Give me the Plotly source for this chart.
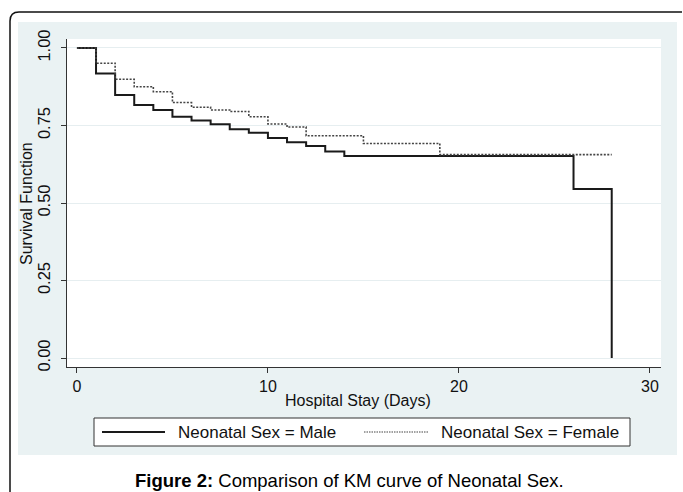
import plotly.graph_objects as go

# Data (Kaplan-Meier step estimates)
time_male = [0, 1, 2, 3, 4, 5, 6, 7, 8, 9, 10, 11, 12, 13, 14, 26, 28]
surv_male = [1.0, 0.918, 0.848, 0.816, 0.800, 0.778, 0.766, 0.754, 0.738,
             0.727, 0.710, 0.696, 0.684, 0.666, 0.652, 0.545, 0.0]
time_female = [0, 1, 2, 3, 4, 5, 6, 7, 8, 9, 10, 11, 12, 15, 19, 28]
surv_female = [1.0, 0.951, 0.899, 0.875, 0.859, 0.824, 0.809, 0.800, 0.795,
               0.778, 0.755, 0.745, 0.717, 0.692, 0.656, 0.656]
x_ticks = [0, 10, 20, 30]
y_ticks = [0.0, 0.25, 0.5, 0.75, 1.0]
y_ticklabels = ["0.00", "0.25", "0.50", "0.75", "1.00"]
legend_labels = ["Neonatal Sex = Male", "Neonatal Sex = Female"]

W, H = 683, 492
L, R, T, B = 67, 661, 39, 367  # plot area in pixels


def px(x):
    return (x - L) / (R - L)


def py(y):
    return (B - y) / (B - T)


FONT = "Liberation Sans, Arial, sans-serif"

fig = go.Figure()
fig.add_trace(go.Scatter(x=time_male, y=surv_male, mode="lines", line_shape="hv",
                         line=dict(color="#1a1a1a", width=2), name=legend_labels[0],
                         showlegend=False))
fig.add_trace(go.Scatter(x=time_female, y=surv_female, mode="lines", line_shape="hv",
                         line=dict(color="#444444", width=1.6, dash="2px,1.5px"),
                         name=legend_labels[1], showlegend=False))

shapes = []
# light background region
shapes.append(dict(type="rect", xref="paper", yref="paper", x0=px(18), x1=px(677),
                   y0=py(455), y1=py(22), fillcolor="#eaf2f3", line=dict(width=0),
                   layer="below"))
# white plot region
shapes.append(dict(type="rect", xref="paper", yref="paper", x0=px(67), x1=px(661),
                   y0=py(367), y1=py(39), fillcolor="white", line=dict(width=0),
                   layer="below"))
# outer frame with rounded top-left corner
r = 9
path = (f"M {px(10)},{py(495)} L {px(10)},{py(12 + r)} "
        f"Q {px(10)},{py(12)} {px(10 + r)},{py(12)} L {px(682)},{py(12)}")
shapes.append(dict(type="path", xref="paper", yref="paper", path=path,
                   line=dict(color="#111111", width=1.5)))
# legend box
shapes.append(dict(type="rect", xref="paper", yref="paper", x0=px(94), x1=px(630),
                   y0=py(446), y1=py(418), fillcolor="white",
                   line=dict(color="#333333", width=1)))
# legend samples
shapes.append(dict(type="line", xref="paper", yref="paper", x0=px(102), x1=px(165),
                   y0=py(432), y1=py(432), line=dict(color="#1a1a1a", width=2)))
shapes.append(dict(type="line", xref="paper", yref="paper", x0=px(364), x1=px(428),
                   y0=py(432), y1=py(432),
                   line=dict(color="#444444", width=1.2, dash="1.5px,1px")))

annotations = [
    dict(text=legend_labels[0], xref="paper", yref="paper", x=px(176), y=py(432),
         xanchor="left", yanchor="middle", showarrow=False,
         font=dict(family=FONT, size=17, color="#111111")),
    dict(text=legend_labels[1], xref="paper", yref="paper", x=px(439), y=py(432),
         xanchor="left", yanchor="middle", showarrow=False,
         font=dict(family=FONT, size=17, color="#111111")),
    dict(text="Hospital Stay (Days)", xref="paper", yref="paper", x=px(358), y=py(400),
         xanchor="center", yanchor="middle", showarrow=False,
         font=dict(family=FONT, size=16, color="#111111")),
    dict(text="Survival Function", xref="paper", yref="paper", x=px(26), y=py(204),
         xanchor="center", yanchor="middle", showarrow=False, textangle=-90,
         font=dict(family=FONT, size=16, color="#111111")),
    dict(text="<b>Figure 2:</b> Comparison of KM curve of Neonatal Sex.",
         xref="paper", yref="paper", x=px(349), y=py(480),
         xanchor="center", yanchor="middle", showarrow=False,
         font=dict(family=FONT, size=18.5, color="#000000")),
]

fig.update_layout(
    width=W, height=H,
    margin=dict(l=L, r=W - R, t=T, b=H - B),
    paper_bgcolor="white", plot_bgcolor="white",
    shapes=shapes, annotations=annotations,
    font=dict(family=FONT, size=16, color="#111111"),
)
fig.update_xaxes(range=[-0.52, 30.58], tickvals=x_ticks, ticks="outside", ticklen=5,
                 tickcolor="#333333", showline=True, linecolor="#333333", linewidth=1,
                 showgrid=False, zeroline=False, tickfont=dict(size=16))
fig.update_yaxes(range=[-0.029, 1.029], tickvals=y_ticks, ticktext=y_ticklabels,
                 ticks="outside", ticklen=5, tickcolor="#333333", tickangle=-90,
                 ticklabelstandoff=4,
                 showline=True, linecolor="#333333", linewidth=1,
                 showgrid=True, gridcolor="#e6eef0", gridwidth=1, zeroline=False,
                 tickfont=dict(size=16.5))

fig.write_html("out.html")
